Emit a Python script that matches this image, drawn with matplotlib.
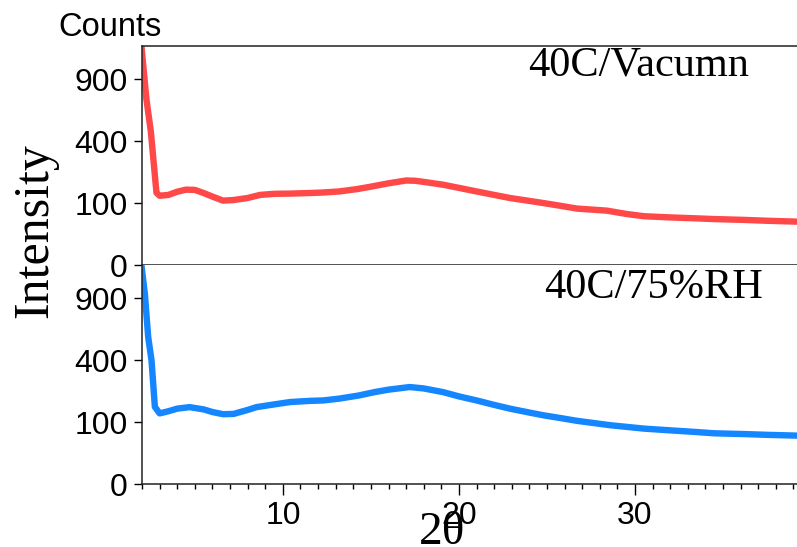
import numpy as np
import matplotlib
matplotlib.use("Agg")
import matplotlib.pyplot as plt
from matplotlib.ticker import FixedLocator, MultipleLocator, NullLocator

plt.rcParams["font.family"] = ["Liberation Sans", "DejaVu Sans"]

# Diffraction patterns (2-theta in degrees, intensity in counts)
two_theta_vac = [1.97, 2.25, 2.5, 2.82, 3.0, 3.5, 4.0, 4.5, 5.0, 5.5, 6.0, 6.6, 7.2,
                 8.0, 8.7, 9.5, 10.5, 11.5, 12.3, 13.2, 14.2, 15.0, 16.0, 17.0,
                 17.5, 18.0, 19.1, 20.0, 21.0, 22.0, 22.9, 24.0, 24.8, 25.8, 26.7,
                 28.4, 29.5, 30.5, 32.0, 33.3, 34.5, 36.2, 37.5, 39.2]
counts_vac = [1240, 715, 465, 136, 125, 128, 140, 148, 147, 135, 122, 108, 110,
              117, 128, 132, 133, 135, 137, 141, 150, 160, 174, 186,
              185, 180, 168, 155, 141, 128, 117, 107, 100, 91, 83,
              77, 68, 62, 59, 57, 55, 53, 51, 49]

two_theta_rh = [1.97, 2.16, 2.35, 2.54, 2.73, 3.0, 3.5, 4.0, 4.7, 5.5, 6.0, 6.6, 7.2,
                8.0, 8.5, 9.5, 10.4, 11.5, 12.3, 13.2, 14.3, 15.2, 16.0, 17.2,
                18.0, 19.1, 20.0, 21.0, 22.0, 22.9, 24.0, 24.8, 25.8, 26.7, 28.6,
                30.5, 32.0, 33.3, 34.5, 36.2, 37.5, 39.2]
counts_rh = [1240, 943, 563, 397, 155, 130, 138, 148, 154, 145, 135, 127, 128,
             143, 154, 165, 175, 180, 182, 190, 204, 220, 232, 245,
             238, 220, 200, 182, 163, 148, 133, 123, 113, 104, 90,
             80, 75, 71, 67, 65, 63, 61]

y_ticks = [0, 100, 400, 900]
y_tick_labels = ["0", "100", "400", "900"]
x_major = [10, 20, 30]
x_major_labels = ["10", "20", "30"]

RED = "#ff4848"
BLUE = "#1486ff"

W, H = 797, 547
fig = plt.figure(figsize=(W / 100, H / 100), dpi=100)


def box(left, top, right, bottom):
    return [left / W, 1 - bottom / H, (right - left) / W, (bottom - top) / H]


ax_top = fig.add_axes(box(141.5, 46, 797, 265))
ax_bot = fig.add_axes(box(141.5, 265, 797, 484))

fwd = lambda v: np.sqrt(np.maximum(v, 0))
inv = lambda v: np.square(v)

for ax, xs, ys, col in ((ax_top, two_theta_vac, counts_vac, RED),
                        (ax_bot, two_theta_rh, counts_rh, BLUE)):
    ax.plot(xs, ys, color=col, lw=4.6, solid_joinstyle="round")
    ax.set_yscale("function", functions=(fwd, inv))
    ax.set_ylim(0, 1250)
    ax.set_xlim(1.97, 39.2)
    ax.yaxis.set_major_locator(FixedLocator(y_ticks))
    ax.set_yticklabels(y_tick_labels)
    ax.yaxis.set_minor_locator(NullLocator())
    ax.tick_params(axis="y", direction="out", length=6, width=1, pad=4,
                   labelsize=23)
    ax.spines["right"].set_visible(False)
    for s in ax.spines.values():
        s.set_linewidth(1.1)
        s.set_color("#222222")

ax_top.xaxis.set_major_locator(NullLocator())
ax_top.xaxis.set_minor_locator(NullLocator())

ax_bot.spines["top"].set_visible(False)
ax_bot.xaxis.set_major_locator(FixedLocator(x_major))
ax_bot.set_xticklabels(x_major_labels)
ax_bot.xaxis.set_minor_locator(MultipleLocator(1))
ax_bot.tick_params(axis="x", which="major", direction="out", length=8, width=1,
                   pad=4, labelsize=23)
ax_bot.tick_params(axis="x", which="minor", direction="out", length=3.5, width=1)

serif = ["Liberation Serif", "DejaVu Serif"]
fig.text(58 / W, 1 - 36 / H, "Counts", fontsize=23.5, va="baseline", ha="left")
fig.text(528 / W, 1 - 75 / H, "40C/Vacumn", fontsize=30.5, family=serif,
         va="baseline", ha="left")
fig.text(544 / W, 1 - 298 / H, "40C/75%RH", fontsize=30.5, family=serif,
         va="baseline", ha="left")
fig.text(35 / W, 1 - 231 / H, "Intensity", fontsize=36, family=serif,
         rotation=90, va="center", ha="center")
fig.text(442 / W, 1 - 544 / H, "2θ", fontsize=34, family=serif,
         va="baseline", ha="center")

fig.savefig("out.png", dpi=100)
